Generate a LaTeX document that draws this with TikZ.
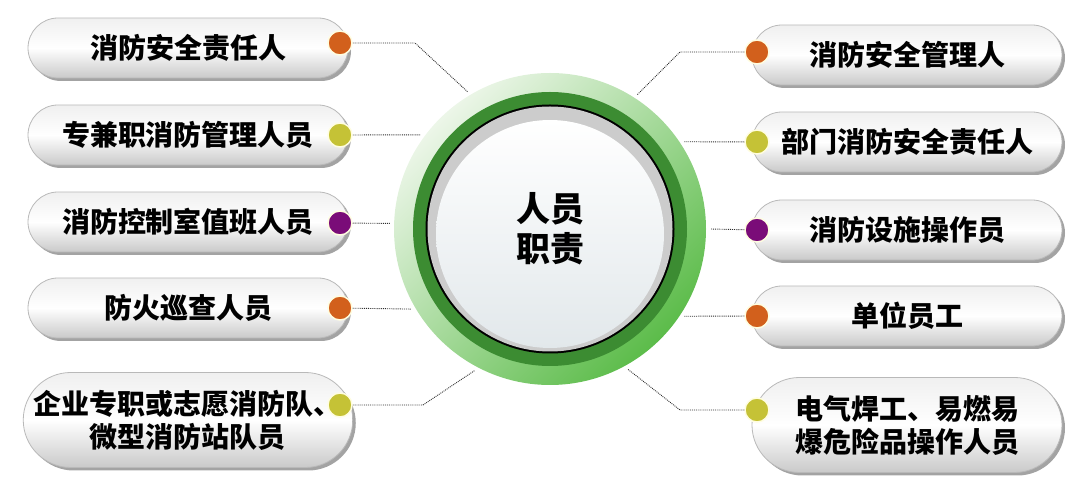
\documentclass[tikz,border=0pt]{standalone}
\usepackage{fontspec}
\newfontfamily\cjk{Noto Sans CJK SC}
\usetikzlibrary{shapes.misc,shadows}
\definecolor{dotor}{RGB}{210,96,28}
\definecolor{dotyl}{RGB}{197,194,54}
\definecolor{dotpu}{RGB}{122,12,120}
\definecolor{ringpale}{RGB}{236,246,232}
\definecolor{ringgrn}{RGB}{92,188,74}
\definecolor{ringdark}{RGB}{60,140,50}
\definecolor{discbot}{RGB}{226,232,235}
\begin{document}
\begin{tikzpicture}[x=1pt,y=1pt]
	\useasboundingbox (0,0) rectangle (1080,490);
	\tikzstyle{p} = [rounded rectangle, draw=gray!55, line width=0.8pt, top color=gray!12, bottom color=gray!42, middle color=white, drop shadow={shadow xshift=3pt, shadow yshift=-3pt, fill=gray!80, opacity=0.9}, minimum height=60pt, inner sep=0pt, font=\cjk\bfseries\fontsize{28}{33}\selectfont, align=center]
	\tikzstyle{d} = [circle, minimum size=24pt, inner sep=0pt, draw=yellow!12, line width=1.5pt]
	\tikzstyle{l} = [densely dotted, gray!35!black, line width=0.9pt]
	\tikzstyle{h} = [circle, minimum size=320pt, inner sep=0pt, align=center, font=\cjk\bfseries\fontsize{34}{40}\selectfont, path picture={
		\coordinate (o) at (path picture bounding box.center);
		\shade[top color=ringpale, bottom color=ringgrn, shading angle=45] (o) circle (156pt);
		\fill[ringdark] (o) circle (137pt);
		\fill[black] (o) circle (124.5pt);
		\fill[gray!40] (o) circle (122.5pt);
		\shade[top color=white, bottom color=discbot] ([yshift=-5pt]o) circle (114pt);
	}]
	
	\node [h] (hub) at (550,261) {人员\\职责};
	
	% left side
	\node [p, minimum width=320pt] (a1) at (188,442) {消防安全责任人};
	\node [p, minimum width=320pt] (a2) at (188,355) {专兼职消防管理人员};
	\node [p, minimum width=320pt] (a3) at (188,268) {消防控制室值班人员};
	\node [p, minimum width=320pt] (a4) at (188,182) {防火巡查人员};
	\node [p, minimum width=320pt, minimum height=95pt] (a5) at (188,70) {企业专职或志愿消防队、\\微型消防站队员};
	
	% right side
	\node [p, minimum width=310pt] (b1) at (907,435) {消防安全管理人};
	\node [p, minimum width=310pt] (b2) at (907,348) {部门消防安全责任人};
	\node [p, minimum width=310pt] (b3) at (907,260) {消防设施操作员};
	\node [p, minimum width=310pt] (b4) at (907,174) {单位员工};
	\node [p, minimum width=310pt, minimum height=95pt] (b5) at (907,65) {电气焊工、易燃易\\爆危险品操作人员};
	
	\node [d, fill=dotor] (da1) at (340,447) {};
	\node [d, fill=dotyl] (da2) at (340,355) {};
	\node [d, fill=dotpu] (da3) at (340,267) {};
	\node [d, fill=dotor] (da4) at (340,182) {};
	\node [d, fill=dotyl] (da5) at (340,85) {};
	
	\node [d, fill=dotor] (db1) at (757,438) {};
	\node [d, fill=dotyl] (db2) at (757,348) {};
	\node [d, fill=dotpu] (db3) at (757,260) {};
	\node [d, fill=dotor] (db4) at (757,174) {};
	\node [d, fill=dotyl] (db5) at (757,80) {};
	
	\coordinate (ka1) at (415,447);
	\coordinate (ka5) at (423,85);
	\coordinate (kb1) at (680,438);
	\coordinate (kb5) at (680,80);
	
	\draw [l] (da1) -- (ka1) -- (hub.121);
	\draw [l] (da2) -- (hub.144);
	\draw [l] (da3) -- (hub.178);
	\draw [l] (da4) -- (hub.210);
	\draw [l] (da5) -- (ka5) -- (hub.242);
	
	\draw [l] (db1) -- (kb1) -- (hub.57);
	\draw [l] (db2) -- (hub.33);
	\draw [l] (db3) -- (hub.0);
	\draw [l] (db4) -- (hub.-33);
	\draw [l] (db5) -- (kb5) -- (hub.-61);
	
\end{tikzpicture}
\end{document}
